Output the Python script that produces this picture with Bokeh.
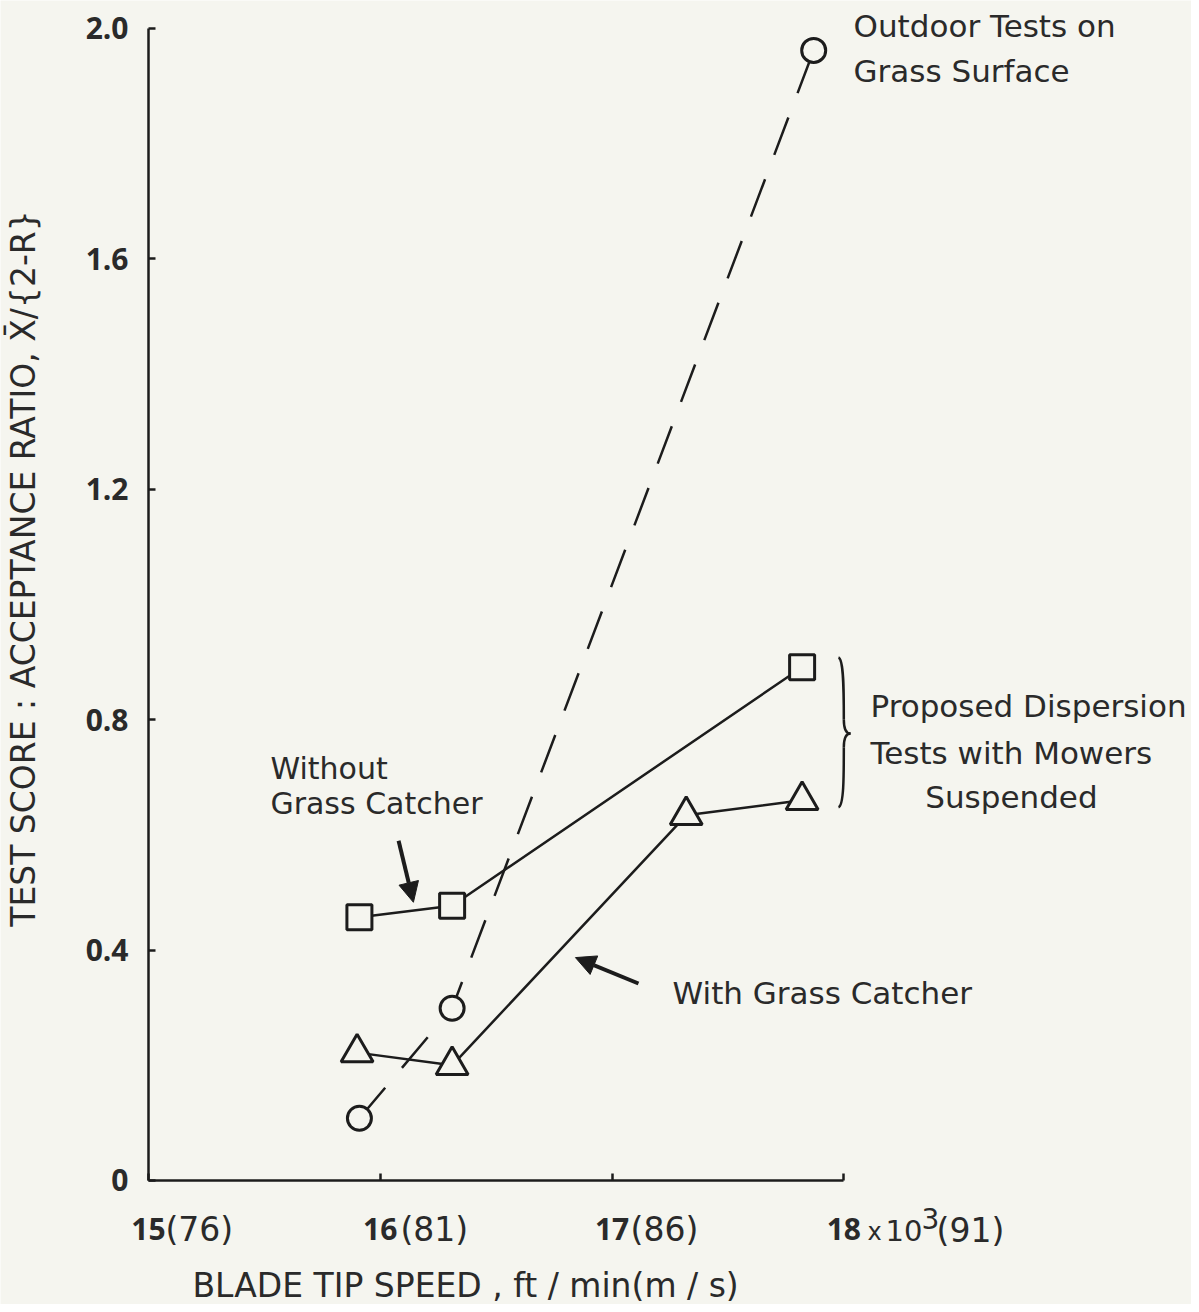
from bokeh.plotting import figure
from bokeh.models import Label, Arrow, NormalHead, FixedTicker, Range1d, NumeralTickFormatter
from bokeh.embed import file_html
from bokeh.resources import INLINE
import math

# ---- data (blade tip speed in 10^3 ft/min, acceptance ratio) ----
without_catcher_x = [15.91, 16.31, 17.82]
without_catcher_y = [0.457, 0.477, 0.891]

with_catcher_x = [15.90, 16.31, 17.32, 17.82]
with_catcher_y = [0.222, 0.200, 0.634, 0.660]

outdoor_x = [15.91, 16.31, 17.87]
outdoor_y = [0.108, 0.299, 1.962]

x_ticks = [15, 16, 17, 18]
x_tick_metric = ["(76)", "(81)", "(86)", "(91)"]
y_ticks = [0, 0.4, 0.8, 1.2, 1.6, 2.0]

BG = "#f5f5ef"
INK = "#1c1c1c"
TXT = "#2a2a2a"
FONT = "DejaVu Sans"
TICKFONT = "Open Sans"

# frame covers the whole canvas; axes sit at fixed data locations inside it
p = figure(width=1191, height=1304,
           x_range=Range1d(14.3615, 19.5), y_range=Range1d(-0.21528, 2.04861),
           output_backend="svg", toolbar_location=None, min_border=0)
p.background_fill_color = BG
p.border_fill_color = BG
p.outline_line_color = None
p.grid.visible = False

for ax in (p.xaxis[0], p.yaxis[0]):
    ax.axis_line_width = 2.5
    ax.axis_line_color = INK
    ax.major_tick_in = 7
    ax.major_tick_out = 0
    ax.major_tick_line_width = 2.5
    ax.major_tick_line_color = INK
    ax.minor_tick_line_color = None
    ax.major_label_text_font = TICKFONT
    ax.major_label_text_font_style = "bold"
    ax.major_label_text_font_size = "30px"
    ax.major_label_text_color = TXT

p.xaxis.fixed_location = 0
p.xaxis.bounds = (15, 18)
p.xaxis.ticker = FixedTicker(ticks=x_ticks)
p.xaxis.major_label_standoff = 38
p.yaxis.fixed_location = 15
p.yaxis.bounds = (0, 2.0)
p.yaxis.ticker = FixedTicker(ticks=y_ticks)
p.yaxis.formatter = NumeralTickFormatter(format="0.0")
p.yaxis.major_label_overrides = {0: "0"}
p.yaxis.major_label_standoff = 20

# series
p.line(outdoor_x, outdoor_y, line_width=2.5, line_color=INK, line_dash="40 26")
p.line(without_catcher_x, without_catcher_y, line_width=2.5, line_color=INK)
p.line(with_catcher_x, with_catcher_y, line_width=2.5, line_color=INK)

p.scatter(outdoor_x, outdoor_y, marker="circle", size=24, fill_color=BG,
          line_color=INK, line_width=3)
p.scatter(without_catcher_x, without_catcher_y, marker="square", size=25, fill_color=BG,
          line_color=INK, line_width=3)
p.scatter(with_catcher_x, with_catcher_y, marker="triangle", size=32, fill_color=BG,
          line_color=INK, line_width=3)

# brace
p.bezier(x0=[17.977, 18.0, 18.029, 18.0], y0=[0.908, 0.80, 0.776, 0.752],
         x1=[18.0, 18.029, 18.0, 17.977], y1=[0.80, 0.776, 0.752, 0.648],
         cx0=[18.0, 18.0, 18.008, 18.0], cy0=[0.905, 0.783, 0.776, 0.70],
         cx1=[18.0, 18.008, 18.0, 18.0], cy1=[0.85, 0.776, 0.769, 0.651],
         line_color=INK, line_width=2.5)

def lab(x, y, text, size="31px", align="left", style="normal", angle=0.0,
        baseline="middle", font=FONT):
    p.add_layout(Label(x=x, y=y, text=text, text_font=font, text_font_size=size,
                       text_font_style=style, text_align=align, text_baseline=baseline,
                       text_color=TXT, angle=angle))

# metric tick parts
lab(15.073, -0.085, x_tick_metric[0], size="33px")
lab(16.087, -0.085, x_tick_metric[1], size="33px")
lab(17.080, -0.085, x_tick_metric[2], size="33px")
lab(18.102, -0.089, "x", size="24px")
lab(18.180, -0.087, "10", size="29px")
lab(18.335, -0.066, "3", size="28px")
lab(18.400, -0.087, x_tick_metric[3], size="33px")

# axis titles
lab(16.368, -0.182, "BLADE TIP SPEED , ft / min(m / s)", size="33px", align="center")
lab(14.461, 1.0625, "TEST SCORE : ACCEPTANCE RATIO, X\u0304/{2-R}", size="33px",
    align="center", angle=math.pi / 2)

# annotations
lab(18.042, 2.005, "Outdoor Tests on")
lab(18.042, 1.927, "Grass Surface")
lab(18.115, 0.823, "Proposed Dispersion")
lab(18.115, 0.743, "Tests with Mowers")
lab(18.723, 0.665, "Suspended", align="center")
lab(15.526, 0.715, "Without", size="30px")
lab(15.526, 0.655, "Grass Catcher", size="30px")
lab(17.261, 0.326, "With Grass Catcher")

p.add_layout(Arrow(end=NormalHead(size=20, fill_color=INK, line_color=INK),
                   x_start=16.079, y_start=0.590, x_end=16.143, y_end=0.483,
                   line_width=4, line_color=INK))
p.add_layout(Arrow(end=NormalHead(size=20, fill_color=INK, line_color=INK),
                   x_start=17.114, y_start=0.342, x_end=16.842, y_end=0.387,
                   line_width=4, line_color=INK))

open("out.html", "w").write(file_html(p, INLINE))
